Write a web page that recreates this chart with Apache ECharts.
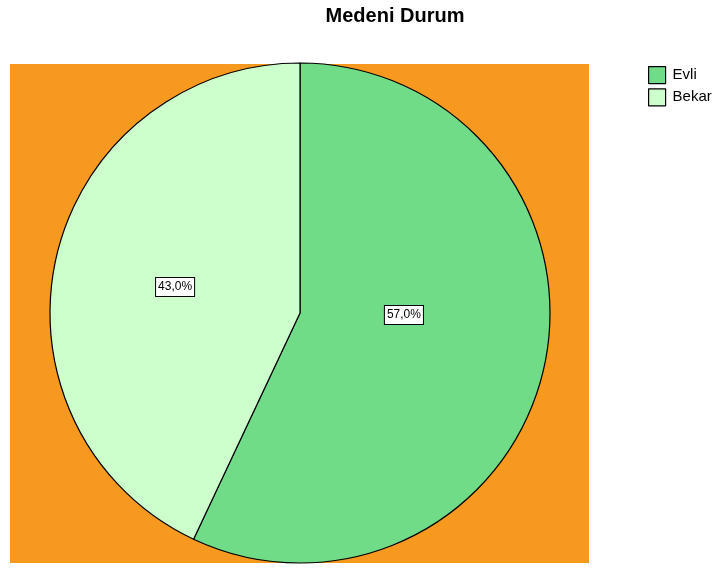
<!DOCTYPE html>
<html>
<head>
<meta charset="utf-8">
<title>Medeni Durum</title>
<script src="https://cdn.jsdelivr.net/npm/echarts@6/dist/echarts.min.js"></script>
<style>
  html, body { margin: 0; padding: 0; background: #fff; }
</style>
</head>
<body>
<div id="main" style="width: 717px; height: 568px;"></div>
<script type="text/javascript">
// data
var categories = ['Evli', 'Bekar'];
var percents = [57.0, 43.0];
var colors = ['#70DC88', '#CCFFCC'];
// label nudges (SPSS places them a bit differently from echarts)
var labelOffsets = [[-21, -26], [0, 2]];

var chart = echarts.init(document.getElementById('main'));

var pieData = categories.map(function (name, i) {
    return {
        name: name,
        value: percents[i],
        itemStyle: { color: colors[i] },
        label: { offset: labelOffsets[i] }
    };
});

chart.setOption({
    animation: false,
    title: {
        text: 'Medeni Durum',
        left: 390,
        top: 1,
        textAlign: 'center',
        textStyle: {
            fontFamily: 'Liberation Sans, Arial, sans-serif',
            fontSize: 20,
            fontWeight: 'bold',
            color: '#000'
        }
    },
    legend: {
        orient: 'vertical',
        left: 643,
        top: 61,
        icon: 'rect',
        itemWidth: 17,
        itemHeight: 17,
        itemGap: 4,
        itemStyle: { borderColor: '#000', borderWidth: 1.2 },
        textStyle: {
            fontFamily: 'Liberation Sans, Arial, sans-serif',
            fontSize: 15,
            color: '#000',
            padding: [0, 0, 0, 2]
        },
        data: categories
    },
    graphic: [{
        type: 'rect',
        z: -10,
        shape: { x: 10, y: 64, width: 579, height: 499 },
        style: { fill: '#F7991E' }
    }],
    series: [{
        type: 'pie',
        center: [300, 313],
        radius: [0, 250],
        startAngle: 90,
        clockwise: true,
        itemStyle: { borderColor: '#000', borderWidth: 1.2 },
        label: {
            position: 'inside',
            formatter: function (p) {
                return p.value.toFixed(1).replace('.', ',') + '%';
            },
            fontFamily: 'Liberation Sans, Arial, sans-serif',
            fontSize: 12,
            color: '#000',
            backgroundColor: '#fff',
            borderColor: '#000',
            borderWidth: 1,
            padding: [4, 2, 2, 2]
        },
        labelLine: { show: false },
        emphasis: { disabled: true },
        data: pieData
    }]
});
</script>
</body>
</html>
